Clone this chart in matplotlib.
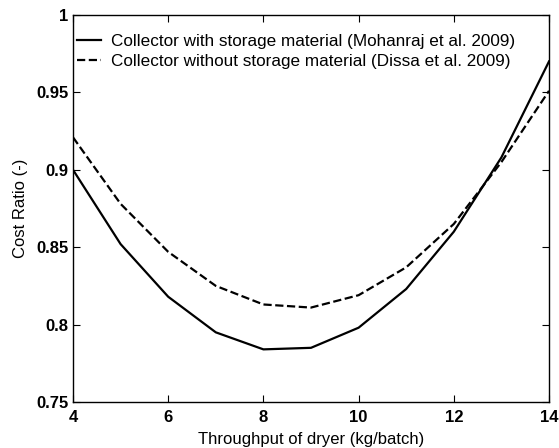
import numpy as np
import matplotlib.pyplot as plt

plt.rcParams['font.family'] = ['Liberation Sans', 'DejaVu Sans']

# Données
throughput = [4, 5, 6, 7, 8, 9, 10, 11, 12, 13, 14]
with_storage = [0.900, 0.852, 0.818, 0.795, 0.784, 0.785, 0.798, 0.823, 0.860, 0.908, 0.970]
without_storage = [0.921, 0.878, 0.847, 0.825, 0.813, 0.811, 0.819, 0.837, 0.865, 0.905, 0.951]

x_ticks = [4, 6, 8, 10, 12, 14]
y_ticks = [0.75, 0.8, 0.85, 0.9, 0.95, 1.0]
y_ticklabels = ['0.75', '0.8', '0.85', '0.9', '0.95', '1']

fig = plt.figure(figsize=(5.59, 4.48), dpi=100)
ax = fig.add_axes([73 / 559, 46 / 448, 476 / 559, 387 / 448])

ax.plot(throughput, with_storage, 'k-', linewidth=1.6,
        label='Collector with storage material (Mohanraj et al. 2009)')
ax.plot(throughput, without_storage, 'k--', linewidth=1.6,
        label='Collector without storage material (Dissa et al. 2009)')

ax.set_xlim(4, 14)
ax.set_ylim(0.75, 1.0)
ax.set_xticks(x_ticks)
ax.set_yticks(y_ticks)
ax.set_yticklabels(y_ticklabels)
ax.tick_params(direction='in', top=True, right=True, length=5, labelsize=12, width=0.8)
ax.tick_params(axis='x', pad=6)
for lab in ax.get_xticklabels() + ax.get_yticklabels():
    lab.set_fontweight('bold')

ax.set_xlabel('Throughput of dryer (kg/batch)', fontsize=12, labelpad=5)
ax.set_ylabel('Cost Ratio (-)', fontsize=12, labelpad=6)
ax.legend(loc='upper left', frameon=False, fontsize=12.3, handlelength=1.4,
          borderaxespad=0, borderpad=0, labelspacing=0.3, handletextpad=0.6,
          bbox_to_anchor=(4 / 476, 0.952))

for s in ax.spines.values():
    s.set_linewidth(1.0)

plt.savefig('out.png', dpi=100)
